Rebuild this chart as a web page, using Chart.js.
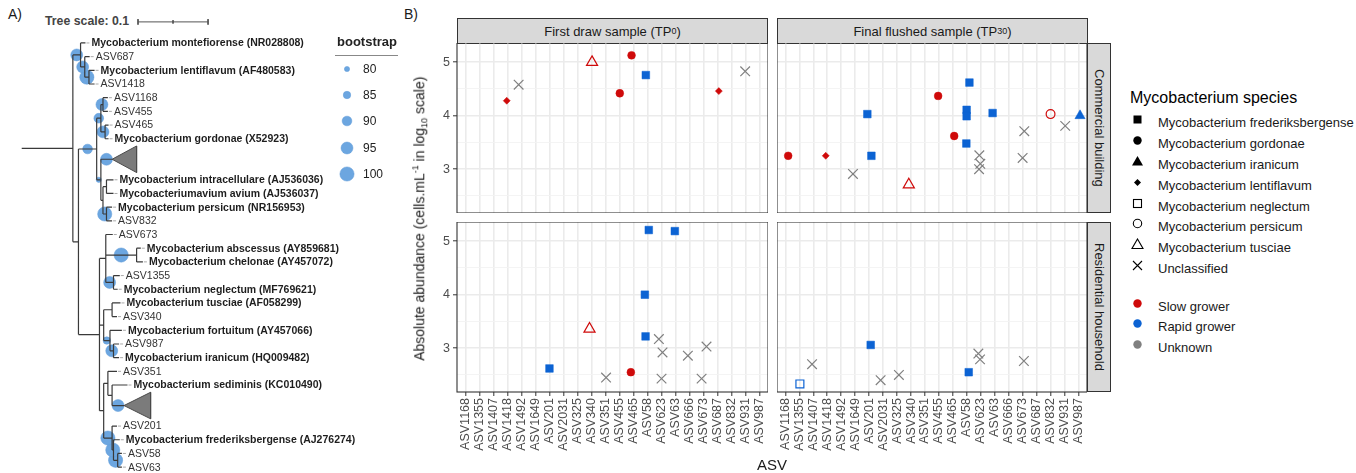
<!DOCTYPE html>
<html>
<head>
<meta charset="utf-8">
<script src="https://cdn.jsdelivr.net/npm/chart.js@4.4.1/dist/chart.umd.min.js"></script>
<style>
  body { margin: 0; width: 1356px; height: 473px; position: relative; overflow: hidden; background: #fff;
         font-family: "Liberation Sans", Arial, sans-serif; color: #1a1a1a; }
  canvas, .abs { position: absolute; }
  .strip { position: absolute; box-sizing: border-box; background: #d9d9d9; border: 1px solid #333;
           font-size: 13px; color: #1a1a1a; display: flex; align-items: center; justify-content: center; }
  .strip sub { font-size: 9px; vertical-align: -2px; }
  .vtext { writing-mode: vertical-rl; }
  .leg { position: absolute; font-size: 13px; line-height: 16px; white-space: nowrap; }
  .leg svg { position: absolute; left: -27px; top: -2px; }
</style>
</head>
<body>
<div class="abs" style="left:8px;top:6px;font-size:14px">A)</div>
<div class="abs" style="left:404px;top:6px;font-size:14px">B)</div>
<div class="abs" style="left:45px;top:14px;font-size:12.3px;font-weight:bold;color:#444">Tree scale: 0.1</div>

<canvas id="tree" width="400" height="473" style="left:0;top:0"></canvas>
<div id="bootLegend"></div>

<div class="strip" style="left:457px;top:18px;width:311px;height:26px">First draw sample (TP<sub>0</sub>)</div>
<div class="strip" style="left:777px;top:18px;width:311px;height:26px">Final flushed sample (TP<sub>30</sub>)</div>
<div class="strip vtext" style="left:1087px;top:43px;width:24px;height:170px">Commercial building</div>
<div class="strip vtext" style="left:1087px;top:222px;width:24px;height:170px">Residential household</div>

<canvas id="p1" width="338" height="170" style="left:430px;top:43px"></canvas>
<canvas id="p2" width="310" height="170" style="left:777px;top:43px"></canvas>
<canvas id="p3" width="338" height="240" style="left:430px;top:222px"></canvas>
<canvas id="p4" width="310" height="240" style="left:777px;top:222px"></canvas>

<div class="abs" style="left:220px;top:209px;width:400px;text-align:center;font-size:14px;color:#1a1a1a;transform:rotate(-90deg)">Absolute abundance (cells.mL<sup style="font-size:9px">-1</sup> in log<sub style="font-size:9px">10</sub> scale)</div>
<div class="abs" style="left:672px;top:456px;width:200px;text-align:center;font-size:15px">ASV</div>

<div id="legend"></div>

<script>
// ---- panel B data ----
const asvLabels = ['ASV1168', 'ASV1355', 'ASV1407', 'ASV1418', 'ASV1492', 'ASV1649', 'ASV201', 'ASV2031',
  'ASV325', 'ASV340', 'ASV351', 'ASV455', 'ASV465', 'ASV58', 'ASV623', 'ASV63', 'ASV666', 'ASV673',
  'ASV687', 'ASV832', 'ASV931', 'ASV987'];
const yMajorTicks = [3, 4, 5];
const yMinorTicks = [2.5, 3.5, 4.5];

// [ASV position (with jitter), log10 abundance, species]
const commercialTP0 = [
  [2.95, 4.28, 'lentiflavum'], [3.8, 4.58, 'unclassified'], [9.04, 5.0, 'tusciae'],
  [11.86, 5.13, 'gordonae'], [11.02, 4.42, 'gordonae'], [12.88, 4.76, 'frederiksbergense'],
  [18.09, 4.46, 'lentiflavum'], [19.97, 4.83, 'unclassified']
];
const commercialTP30 = [
  [13.18, 4.62, 'frederiksbergense'], [10.94, 4.37, 'gordonae'], [5.87, 4.03, 'frederiksbergense'],
  [12.98, 4.11, 'frederiksbergense'], [12.98, 3.99, 'frederiksbergense'], [14.84, 4.05, 'frederiksbergense'],
  [18.99, 4.03, 'persicum'], [21.1, 4.0, 'iranicum'], [20.04, 3.81, 'unclassified'],
  [17.11, 3.71, 'unclassified'], [12.09, 3.62, 'gordonae'], [12.96, 3.48, 'frederiksbergense'],
  [0.2, 3.25, 'gordonae'], [2.89, 3.25, 'lentiflavum'], [6.16, 3.25, 'frederiksbergense'],
  [13.89, 3.26, 'unclassified'], [16.99, 3.21, 'unclassified'], [13.96, 3.10, 'unclassified'],
  [13.87, 3.0, 'unclassified'], [4.84, 2.91, 'unclassified'], [8.84, 2.71, 'tusciae']
];
const residentialTP0 = [
  [13.09, 5.21, 'frederiksbergense'], [14.95, 5.19, 'frederiksbergense'], [12.81, 4.0, 'frederiksbergense'],
  [8.86, 3.36, 'tusciae'], [12.86, 3.22, 'frederiksbergense'], [13.81, 3.17, 'unclassified'],
  [14.07, 2.92, 'unclassified'], [15.88, 2.86, 'unclassified'], [17.21, 3.03, 'unclassified'],
  [6.0, 2.62, 'frederiksbergense'], [10.04, 2.45, 'unclassified'], [11.81, 2.55, 'gordonae'],
  [14.0, 2.43, 'unclassified'], [16.86, 2.43, 'unclassified']
];
const residentialTP30 = [
  [6.11, 3.06, 'frederiksbergense'], [1.91, 2.70, 'unclassified'], [6.82, 2.40, 'unclassified'],
  [8.13, 2.50, 'unclassified'], [13.82, 2.90, 'unclassified'], [13.94, 2.79, 'unclassified'],
  [13.13, 2.55, 'frederiksbergense'], [17.08, 2.76, 'unclassified'], [1.04, 2.33, 'neglectum']
];

const speciesOrder = ['frederiksbergense', 'gordonae', 'iranicum', 'lentiflavum', 'neglectum', 'persicum', 'tusciae', 'unclassified'];
const speciesNames = ['Mycobacterium frederiksbergense', 'Mycobacterium gordonae', 'Mycobacterium iranicum',
  'Mycobacterium lentiflavum', 'Mycobacterium neglectum', 'Mycobacterium persicum', 'Mycobacterium tusciae', 'Unclassified'];
const speciesGrower = { frederiksbergense: 'rapid', gordonae: 'slow', iranicum: 'rapid', lentiflavum: 'slow',
  neglectum: 'rapid', persicum: 'slow', tusciae: 'slow', unclassified: 'unknown' };
const growerKeys = ['slow', 'rapid', 'unknown'];
const growerNames = ['Slow grower', 'Rapid grower', 'Unknown'];

// ---- panel A data ----
// [label, bold, tip depth]
const treeLeaves = [
  ['Mycobacterium montefiorense (NR028808)', true, 0.091], ['ASV687', false, 0.097],
  ['Mycobacterium lentiflavum (AF480583)', true, 0.104], ['ASV1418', false, 0.104],
  ['ASV1168', false, 0.123], ['ASV455', false, 0.123], ['ASV465', false, 0.124],
  ['Mycobacterium gordonae (X52923)', true, 0.124],
  ['Mycobacterium intracellulare (AJ536036)', true, 0.131], ['Mycobacteriumavium avium (AJ536037)', true, 0.131],
  ['Mycobacterium persicum (NR156953)', true, 0.129], ['ASV832', false, 0.129], ['ASV673', false, 0.130],
  ['Mycobacterium abscessus (AY859681)', true, 0.170], ['Mycobacterium chelonae (AY457072)', true, 0.173],
  ['ASV1355', false, 0.140], ['Mycobacterium neglectum (MF769621)', true, 0.137],
  ['Mycobacterium tusciae (AF058299)', true, 0.141], ['ASV340', false, 0.136],
  ['Mycobacterium fortuitum (AY457066)', true, 0.143], ['ASV987', false, 0.139],
  ['Mycobacterium iranicum (HQ009482)', true, 0.139], ['ASV351', false, 0.136],
  ['Mycobacterium sediminis (KC010490)', true, 0.151], ['ASV201', false, 0.136],
  ['Mycobacterium frederiksbergense (AJ276274)', true, 0.140], ['ASV58', false, 0.143], ['ASV63', false, 0.143]
];
// collapsed clades: [apex depth, base depth, bootstrap]
const collapsedClades = [[0.129, 0.164, 95], [0.146, 0.184, 95]];
// internal node: [depth, bootstrap, children]; number = leaf, 'C#' = collapsed clade
const tree = [0.073, null, [
  [0.084, 95, [0, [0.090, 95, [1, [0.096, 100, [2, 3]]]]]],
  [0.081, null, [
    [0.107, 90, [
      [0.113, 90, [[0.116, 95, [4, 5]], [0.119, 95, [6, 7]]]],
      [0.113, 80, ['C0', [0.116, null, [[0.121, null, [8, 9]], [0.121, 100, [10, 11]]]]]]
    ]],
    [0.111, null, [
      [0.120, null, [12, [0.164, 100, [13, 14]], [0.131, 95, [15, 16]]]],
      [0.117, null, [[0.129, null, [17, 18]], [0.126, 85, [19, [0.131, 95, [20, 21]]]]]],
      [0.117, null, [
        [0.123, null, [22, [0.129, null, [23, 'C1']]]],
        [0.129, 100, [24, [0.131, 100, [25, [0.137, 100, [26, 27]]]]]]
      ]]
    ]]
  ]]
]];
const bootLegendValues = [80, 85, 90, 95, 100];
const TREE_SCALE = 0.1;

// ---- styles ----
const RED = '#cf0a0a', BLUE = '#0c63d3', GREY = '#808080';
const growerColors = { slow: RED, rapid: BLUE, unknown: GREY };
const speciesStyle = {
  frederiksbergense: { shape: 'rect', r: 5.4, open: false },
  gordonae: { shape: 'circle', r: 3.9, open: false },
  iranicum: { shape: 'triangle', r: 5.9, open: false },
  lentiflavum: { shape: 'rectRot', r: 3.5, open: false },
  neglectum: { shape: 'rect', r: 5.6, open: true },
  persicum: { shape: 'circle', r: 4.4, open: true },
  tusciae: { shape: 'triangle', r: 6.4, open: true },
  unclassified: { shape: 'crossRot', r: 6.8, open: true }
};
const Y_MIN = 2.18, Y_MAX = 5.36;

Chart.defaults.font.family = '"Liberation Sans", Arial, sans-serif';

const panelBorder = {
  id: 'panelBorder',
  afterDraw(chart) {
    const { ctx, chartArea: a } = chart;
    ctx.save();
    ctx.strokeStyle = '#333';
    ctx.lineWidth = 1.1;
    ctx.strokeRect(a.left, a.top, a.right - a.left, a.bottom - a.top);
    ctx.restore();
  }
};

const isMajor = v => yMajorTicks.includes(v);

function makePanel(id, points, showX, showY) {
  const datasets = speciesOrder.filter(sp => points.some(p => p[2] === sp)).map(sp => {
    const st = speciesStyle[sp];
    const col = growerColors[speciesGrower[sp]];
    return {
      data: points.filter(p => p[2] === sp).map(p => ({ x: p[0], y: p[1] })),
      pointStyle: st.shape,
      pointRadius: st.r,
      pointBackgroundColor: st.open ? 'rgba(0,0,0,0)' : col,
      pointBorderColor: col,
      pointBorderWidth: st.open ? 1.2 : 0.5
    };
  });
  new Chart(document.getElementById(id), {
    type: 'scatter',
    data: { datasets },
    plugins: [panelBorder],
    options: {
      responsive: false, animation: false, events: [],
      layout: { padding: 0, autoPadding: false },
      plugins: { legend: { display: false }, tooltip: { enabled: false } },
      scales: {
        x: {
          type: 'linear', min: -0.6, max: asvLabels.length - 0.4,
          afterBuildTicks: s => { s.ticks = asvLabels.map((_, i) => ({ value: i })); },
          ticks: { display: showX, autoSkip: false, minRotation: 90, maxRotation: 90, padding: 2,
                   color: '#4d4d4d', font: { size: 12.5 }, callback: v => asvLabels[v] },
          grid: { color: '#ebebeb', lineWidth: 1.6, drawTicks: showX, tickLength: 4, tickColor: '#333', tickWidth: 1 },
          border: { display: false },
          afterFit: s => { s.height = showX ? 70 : 0; s.paddingLeft = 0; s.paddingRight = 0; }
        },
        y: {
          type: 'linear', min: Y_MIN, max: Y_MAX,
          afterBuildTicks: s => { s.ticks = [...yMinorTicks, ...yMajorTicks].sort().map(v => ({ value: v })); },
          ticks: { display: showY, padding: 3, color: '#4d4d4d', font: { size: 12.5 },
                   callback: v => isMajor(v) ? String(v) : '' },
          grid: {
            color: c => isMajor(c.tick.value) ? '#ebebeb' : '#f3f3f3',
            lineWidth: c => isMajor(c.tick.value) ? 1.6 : 0.9,
            drawTicks: showY, tickLength: 4, tickWidth: 1,
            tickColor: c => isMajor(c.tick.value) ? '#333' : 'rgba(0,0,0,0)'
          },
          border: { display: false },
          afterFit: s => { s.width = showY ? 27 : 0; s.paddingTop = 0; s.paddingBottom = 0; }
        }
      }
    }
  });
}

makePanel('p1', commercialTP0, false, true);
makePanel('p2', commercialTP30, false, false);
makePanel('p3', residentialTP0, true, true);
makePanel('p4', residentialTP30, true, false);

// ---- legend (panel B) ----
function symbolSvg(shape, open, col) {
  const fill = open ? 'none' : col, stroke = col;
  let body = '';
  if (shape === 'rect') body = open ? `<rect x="2.5" y="2.5" width="8" height="8" fill="none" stroke="${stroke}" stroke-width="1.1"/>`
                                    : `<rect x="2.5" y="2.5" width="8" height="8" fill="${fill}"/>`;
  if (shape === 'circle') body = open ? `<circle cx="6.5" cy="6.5" r="4.2" fill="none" stroke="${stroke}" stroke-width="1.1"/>`
                                      : `<circle cx="6.5" cy="6.5" r="4.2" fill="${fill}"/>`;
  if (shape === 'triangle') body = `<polygon points="6.5,1 12,10.5 1,10.5" fill="${fill}" stroke="${stroke}" stroke-width="${open ? 1.1 : 0}"/>`;
  if (shape === 'rectRot') body = `<polygon points="6.5,3 10,6.5 6.5,10 3,6.5" fill="${fill}"/>`;
  if (shape === 'crossRot') body = `<path d="M2,2 L11,11 M11,2 L2,11" stroke="${stroke}" stroke-width="1.1"/>`;
  return `<svg width="13" height="13">${body}</svg>`;
}
const legend = document.getElementById('legend');
let html = '<div class="leg" style="left:1130px;top:89px;font-size:16px;line-height:18px;color:#000">Mycobacterium species</div>';
speciesOrder.forEach((sp, i) => {
  const st = speciesStyle[sp];
  const y = 123.3 + 20.8 * i;
  html += `<div class="leg" style="left:1158px;top:${y - 8}px">${symbolSvg(st.shape, st.open, '#000')}${speciesNames[i]}</div>`;
});
growerKeys.forEach((g, i) => {
  const y = 306.7 + 20.6 * i;
  html += `<div class="leg" style="left:1158px;top:${y - 8}px">${symbolSvg('circle', false, growerColors[g])}${growerNames[i]}</div>`;
});
legend.innerHTML = html;

// ---- tree (panel A) ----
const bootRadius = b => 2.6 + (b - 80) * 0.225;
let slot = 0;
const segs = [], boots = [], tris = [], tips = [];
function place(node, parentDepth) {
  if (typeof node === 'number') {
    const [label, bold, depth] = treeLeaves[node];
    const y = slot++;
    segs.push([parentDepth, y, depth, y]);
    tips.push({ x: depth, y, label, bold });
    return y;
  }
  if (typeof node === 'string') {
    const [apex, base, bs] = collapsedClades[+node.slice(1)];
    const y = slot + 0.5;
    slot += 2;
    segs.push([parentDepth, y, apex, y]);
    tris.push([apex, base, y]);
    if (bs) boots.push({ x: (parentDepth + apex) / 2, y, b: bs });
    return y;
  }
  const [depth, bs, kids] = node;
  const ys = kids.map(k => place(k, depth));
  const y = (ys[0] + ys[ys.length - 1]) / 2;
  segs.push([depth, ys[0], depth, ys[ys.length - 1]]);
  segs.push([parentDepth, y, depth, y]);
  if (bs) boots.push({ x: (parentDepth + depth) / 2, y, b: bs });
  return y;
}
place(tree, 0);

const segPoints = list => list.flatMap(s => [{ x: s[0], y: s[1] }, { x: s[2], y: s[3] }, { x: null, y: null }]);
const barY = -1.54, barX = 0.166;
const scaleBar = [[barX, barY, barX + TREE_SCALE, barY], [barX, barY - 0.2, barX, barY + 0.2],
  [barX + TREE_SCALE, barY - 0.2, barX + TREE_SCALE, barY + 0.2], [barX + TREE_SCALE / 2, barY - 0.12, barX + TREE_SCALE / 2, barY + 0.12]];

const treeDatasets = [
  { data: segPoints(segs), showLine: true, spanGaps: false, borderColor: '#3a3a3a', borderWidth: 1.2, pointRadius: 0 },
  { data: segPoints(scaleBar), showLine: true, spanGaps: false, borderColor: '#555', borderWidth: 1, pointRadius: 0 },
  ...tris.map(t => ({
    data: [{ x: t[0], y: t[2] }, { x: t[1], y: t[2] - 0.97 }, { x: t[1], y: t[2] + 0.97 }, { x: t[0], y: t[2] }],
    showLine: true, fill: 'shape', backgroundColor: '#7b7b7b', borderColor: '#4a4a4a', borderWidth: 1, pointRadius: 0
  })),
  { data: boots.map(b => ({ x: b.x, y: b.y })), pointRadius: boots.map(b => bootRadius(b.b)),
    pointBackgroundColor: '#6ca6e0', pointBorderColor: '#5f9ad8', pointBorderWidth: 0.5 }
];

const leafLabels = {
  id: 'leafLabels',
  afterDatasetsDraw(chart) {
    const { ctx, scales: { x, y } } = chart;
    ctx.save();
    ctx.textBaseline = 'middle';
    tips.forEach(t => {
      const px = x.getPixelForValue(t.x), py = y.getPixelForValue(t.y);
      ctx.strokeStyle = '#aaa';
      ctx.lineWidth = 1;
      ctx.beginPath(); ctx.moveTo(px + 1, py); ctx.lineTo(px + 4, py); ctx.stroke();
      ctx.font = (t.bold ? 'bold ' : '') + '10.5px "Liberation Sans", Arial, sans-serif';
      ctx.fillStyle = t.bold ? '#1e1e1e' : '#333';
      ctx.fillText(t.label, px + 6, py + 0.5);
    });
    ctx.restore();
  }
};

new Chart(document.getElementById('tree'), {
  type: 'scatter',
  data: { datasets: treeDatasets },
  plugins: [leafLabels],
  options: {
    responsive: false, animation: false, events: [],
    layout: { padding: 0, autoPadding: false },
    plugins: { legend: { display: false }, tooltip: { enabled: false } },
    scales: {
      x: { type: 'linear', display: false, min: -0.031, max: 0.54 },
      y: { type: 'linear', display: false, reverse: true, min: -3.14, max: 31.43 }
    }
  }
});

// bootstrap legend
let bl = '<div class="abs" style="left:337px;top:34px;font-size:13px;font-weight:bold;color:#222">bootstrap</div>' +
  '<div class="abs" style="left:335px;top:55px;width:63px;border-top:1px solid #888"></div>';
bootLegendValues.forEach((b, i) => {
  const cy = 69 + 26.2 * i, r = bootRadius(b);
  bl += `<svg class="abs" style="left:${347 - 8}px;top:${cy - 8}px" width="16" height="16"><circle cx="8" cy="8" r="${r}" fill="#6ca6e0" stroke="#5f9ad8" stroke-width="0.5"/></svg>` +
        `<div class="abs" style="left:363px;top:${cy - 8}px;font-size:12px;line-height:16px;color:#222">${b}</div>`;
});
document.getElementById('bootLegend').innerHTML = bl;
</script>
</body>
</html>
